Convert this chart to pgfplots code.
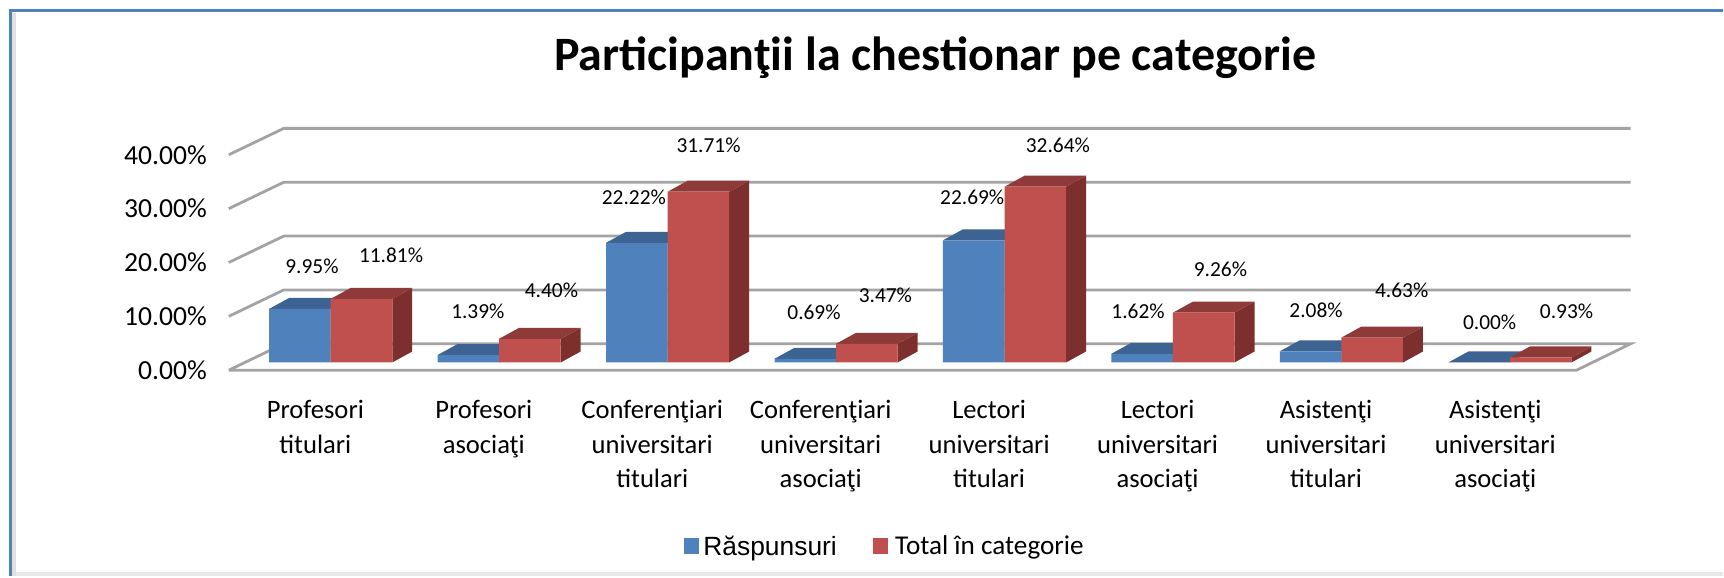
\documentclass[border=0pt]{standalone}
\usepackage{fontspec}
\setmainfont{Carlito}
\newfontfamily\arialf{Liberation Sans}
\usepackage{pgfplots}
\usepackage{pgfplotstable}
\pgfplotsset{compat=1.18}
\definecolor{BlueFront}{HTML}{4F81BD}
\definecolor{BlueTop}{HTML}{3C6392}
\definecolor{RedFront}{HTML}{C0504D}
\definecolor{RedTop}{HTML}{8E3A38}
\definecolor{RedSide}{HTML}{7D2F2D}
\definecolor{GridGray}{HTML}{A3A3A3}

% x is the centre of each bar in picture pixels, y the value in percent
\pgfplotstableread{
x      y
300.2  9.95
468.8  1.39
637.4  22.22
806.0  0.69
974.6  22.69
1143.2 1.62
1311.8 2.08
1480.4 0.00
}\raspunsuri
\pgfplotstableread{
x      y
361.8  11.81
530.4  4.40
699.0  31.71
867.6  3.47
1036.2 32.64
1204.8 9.26
1373.4 4.63
1542.0 0.93
}\total

% top and side faces of the bars of one table
\newcommand\barfaces[3]{%
  \pgfplotsforeachungrouped \i in {0,...,7}{%
    \pgfplotstablegetelem{\i}{x}\of#1\let\xc\pgfplotsretval
    \pgfplotstablegetelem{\i}{y}\of#1\let\val\pgfplotsretval
    \pgfmathsetmacro\xa{\xc-30.8}\pgfmathsetmacro\xb{\xc+30.8}
    \pgfmathsetmacro\xbb{\xb+20}\pgfmathsetmacro\xab{\xa+20}
    \pgfmathsetmacro\vb{\val+2.04}
    \edef\temp{\noexpand\addplot[fill=#3,draw=none,forget plot] coordinates
      {(\xb,0) (\xbb,2.04) (\xbb,\vb) (\xb,\val)};
      \noexpand\addplot[fill=#2,draw=none,forget plot] coordinates
      {(\xa,\val) (\xab,\vb) (\xbb,\vb) (\xb,\val)};}\temp
  }}
% text placed from its position in the 1568 wide view
\newcommand\lbl[3]{\node[font=\fontsize{10.7}{12}\selectfont,inner sep=0pt]
  at (axis cs:{#1*1.0995},{(362.8-#2*1.0995)/5.39}) {#3};}
\newcommand\Y[1]{(362.8-(#1))/5.39}

\begin{document}
\begin{tikzpicture}
\begin{axis}[
  scale only axis, width=674.5pt, height=107.8pt,
  xmin=229, xmax=1578, ymin=-1.43, ymax=38.57,
  clip=false,
  axis line style={draw=none}, major tick length=0pt, tick style={draw=none},
  ytick={-1.43,8.57,18.57,28.57,38.57},
  yticklabels={0.00\%,10.00\%,20.00\%,30.00\%,40.00\%},
  yticklabel style={font=\fontsize{13.8}{16}\selectfont, xshift=-7.5pt},
  xtick={315.6,484.2,652.8,821.4,990,1158.6,1327.2,1496.6},
  xticklabels={{Profesori\\titulari},{Profesori\\asociaţi},
    {Conferenţiari\\universitari\\titulari},{Conferenţiari\\universitari\\asociaţi},
    {Lectori\\universitari\\titulari},{Lectori\\universitari\\asociaţi},
    {Asistenţi\\universitari\\titulari},{Asistenţi\\universitari\\asociaţi}},
  xticklabel style={font=\fontsize{13.3}{17.3}\selectfont, align=center, yshift=-11.6pt},
  legend style={at={(0.4875,-0.82)}, anchor=center, draw=none, fill=none,
    legend columns=2, /tikz/every even column/.append style={column sep=16pt}},
]
\path (axis cs:0,{\Y{577}}) rectangle (axis cs:1724,{\Y{0}});
\fill[black!9] (axis cs:14,{\Y{577}}) rectangle (axis cs:1724,{\Y{573}});
\fill[black!12] (axis cs:11,{\Y{577}}) rectangle (axis cs:16,{\Y{13}});
\draw[BlueFront, line width=1.5pt] (axis cs:11,{\Y{577}}) -- (axis cs:11,{\Y{11}}) -- (axis cs:1724,{\Y{11}});

% walls and floor
\addplot[GridGray, line width=1.4pt, forget plot] coordinates {(229,8.57) (284,13.47) (1632,13.47)};
\addplot[GridGray, line width=1.4pt, forget plot] coordinates {(229,18.57) (284,23.47) (1632,23.47)};
\addplot[GridGray, line width=1.4pt, forget plot] coordinates {(229,28.57) (284,33.47) (1632,33.47)};
\addplot[GridGray, line width=1.4pt, forget plot] coordinates {(229,38.57) (284,43.47) (1632,43.47)};
\addplot[GridGray, line width=1.4pt, forget plot] coordinates {(229,-1.43) (284,3.47) (1632,3.47) (1578,-1.43) (229,-1.43)};

% blue bars, then red ones in front of them
\barfaces{\raspunsuri}{BlueTop}{BlueFront}
\addplot[ybar, bar shift=0pt, bar width=61.6, fill=BlueFront, draw=none,
  legend image code/.code={\fill[BlueFront] (0pt,-3.5pt) rectangle (7.7pt,4.2pt);}] table[x=x,y=y] {\raspunsuri};
\addlegendentry{{\arialf\fontsize{13.2}{15}\selectfont Răspunsuri}}
\barfaces{\total}{RedTop}{RedSide}
\addplot[ybar, bar shift=0pt, bar width=61.6, fill=RedFront, draw=none,
  legend image code/.code={\fill[RedFront] (0pt,-3.5pt) rectangle (7.7pt,4.2pt);}] table[x=x,y=y] {\total};
\addlegendentry{\hspace{1.5pt}\fontsize{13.6}{15}\selectfont Total în categorie}

\lbl{284}{242}{9.95\%}
\lbl{356}{232}{11.81\%}
\lbl{435}{283}{1.39\%}
\lbl{502}{264}{4.40\%}
\lbl{577}{180}{22.22\%}
\lbl{645}{132}{31.71\%}
\lbl{741}{284}{0.69\%}
\lbl{806}{269}{3.47\%}
\lbl{885}{180}{22.69\%}
\lbl{963}{132}{32.64\%}
\lbl{1036}{283}{1.62\%}
\lbl{1111}{245}{9.26\%}
\lbl{1198}{282}{2.08\%}
\lbl{1276}{264}{4.63\%}
\lbl{1356}{293}{0.00\%}
\lbl{1426}{283}{0.93\%}

\node[font=\fontsize{24}{28}\selectfont\bfseries] at (axis cs:936,{\Y{58}}) {Participanţii la chestionar pe categorie};
\end{axis}
\end{tikzpicture}
\end{document}
